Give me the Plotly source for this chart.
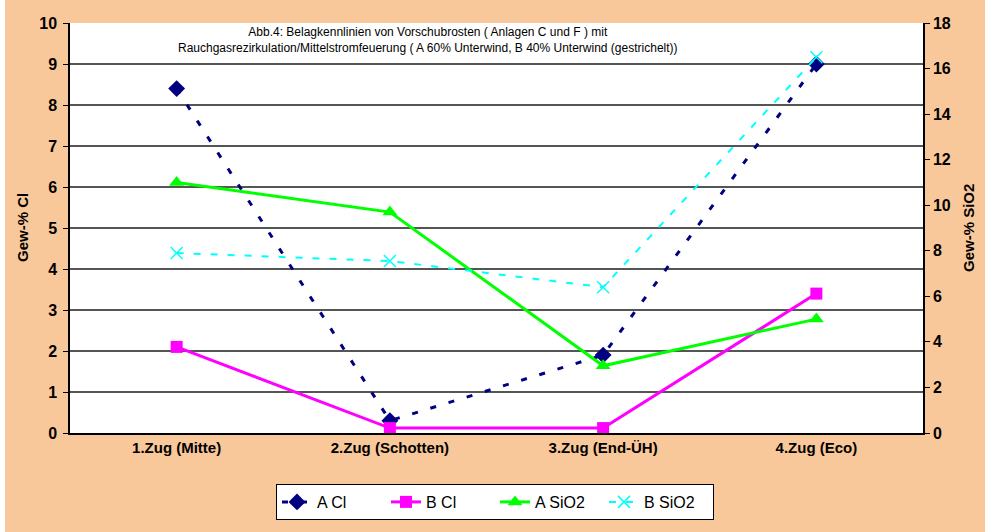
import plotly.graph_objects as go

# Belagkennlinien: chloride (left axis) and SiO2 (right axis) per boiler pass
categories = ["1.Zug (Mitte)", "2.Zug (Schotten)", "3.Zug (End-ÜH)", "4.Zug (Eco)"]
a_cl = [8.4, 0.3, 1.9, 9.0]
b_cl = [2.1, 0.12, 0.12, 3.4]
a_sio2 = [11.0, 9.7, 2.95, 5.0]
b_sio2 = [7.9, 7.55, 6.4, 16.5]

cl_ticks = list(range(0, 11))
sio2_ticks = list(range(0, 19, 2))

title_lines = [
    "Abb.4: Belagkennlinien von Vorschubrosten ( Anlagen C und F ) mit",
    "Rauchgasrezirkulation/Mittelstromfeuerung ( A 60% Unterwind, B 40% Unterwind (gestrichelt))",
]

PEACH = "#F9C89A"
NARROW = "Liberation Sans Narrow, Arial Narrow, Liberation Sans, Arial"
SANS = "Liberation Sans, Arial"
W, H = 985, 532
ML, MR, MT, MB = 70, 62, 23, 99
PW = W - ML - MR
PH = H - MT - MB

fig = go.Figure()

fig.add_trace(go.Scatter(
    x=categories, y=a_cl, name="A Cl", mode="lines+markers",
    line=dict(color="#000080", width=3, dash="6px,13px"),
    marker=dict(symbol="diamond", size=13, color="#000080"),
))
fig.add_trace(go.Scatter(
    x=categories, y=b_cl, name="B Cl", mode="lines+markers",
    line=dict(color="#FF00FF", width=3),
    marker=dict(symbol="square", size=12, color="#FF00FF"),
))
fig.add_trace(go.Scatter(
    x=categories, y=a_sio2, name="A SiO2", mode="lines+markers", yaxis="y2",
    line=dict(color="#00FF00", width=3),
    marker=dict(symbol="triangle-up", size=13, color="#00FF00"),
))
fig.add_trace(go.Scatter(
    x=categories, y=b_sio2, name="B SiO2", mode="lines+markers", yaxis="y2",
    line=dict(color="#00FFFF", width=2, dash="7px,10px"),
    marker=dict(symbol="x-thin-open", size=12, color="#00FFFF",
                line=dict(color="#00FFFF", width=1.5)),
))

def px_x(p):
    return (p - ML) / PW

def px_y(p):
    return (H - MB - p) / PH

annotations = [
    dict(text="<br>".join(title_lines), x=px_x(428), y=px_y(23), xref="paper", yref="paper",
         xanchor="center", yanchor="top", showarrow=False, align="center",
         font=dict(family=SANS, size=12, color="black")),
    dict(text="Gew-% Cl", x=px_x(22), y=px_y(228), xref="paper", yref="paper",
         textangle=-90, showarrow=False, xanchor="center", yanchor="middle",
         font=dict(family=SANS, size=15, color="black", weight="bold")),
    dict(text="Gew-% SiO2", x=px_x(968), y=px_y(228), xref="paper", yref="paper",
         textangle=-90, showarrow=False, xanchor="center", yanchor="middle",
         font=dict(family=SANS, size=15, color="black", weight="bold")),
]

tick_font = dict(family=NARROW, size=16, color="black", weight="bold")

fig.update_layout(
    width=W, height=H,
    margin=dict(l=ML, r=MR, t=MT, b=MB),
    paper_bgcolor=PEACH,
    plot_bgcolor="white",
    showlegend=True,
    legend=dict(
        orientation="h", x=px_x(276), y=px_y(484), xanchor="left", yanchor="top",
        bgcolor="white", bordercolor="black", borderwidth=1,
        font=dict(family=SANS, size=16, color="black"),
        entrywidth=64, entrywidthmode="pixels", tracegroupgap=0,
    ),
    xaxis=dict(
        type="category", range=[-0.5, 3.5], showgrid=False,
        showline=True, linecolor="black", linewidth=1.5,
        ticks="", tickfont=dict(family=NARROW, size=15, color="black", weight="bold"),
    ),
    yaxis=dict(
        range=[0, 10], tickvals=cl_ticks, showgrid=True, gridcolor="#555555", gridwidth=1.5,
        showline=True, linecolor="black", linewidth=1.5, zeroline=False,
        ticks="outside", ticklen=5, tickcolor="black", ticklabelstandoff=3,
        tickfont=tick_font,
    ),
    yaxis2=dict(
        range=[0, 18], tickvals=sio2_ticks, overlaying="y", side="right", showgrid=False,
        showline=True, linecolor="black", linewidth=1.5, zeroline=False,
        ticks="outside", ticklen=5, tickcolor="black",
        tickfont=tick_font,
    ),
    annotations=annotations,
    shapes=[
        dict(type="rect", xref="paper", yref="paper", x0=px_x(0), x1=px_x(5),
             y0=px_y(H), y1=px_y(0), fillcolor="white", line=dict(width=0), layer="below"),
    ],
)

fig.write_html("out.html")
